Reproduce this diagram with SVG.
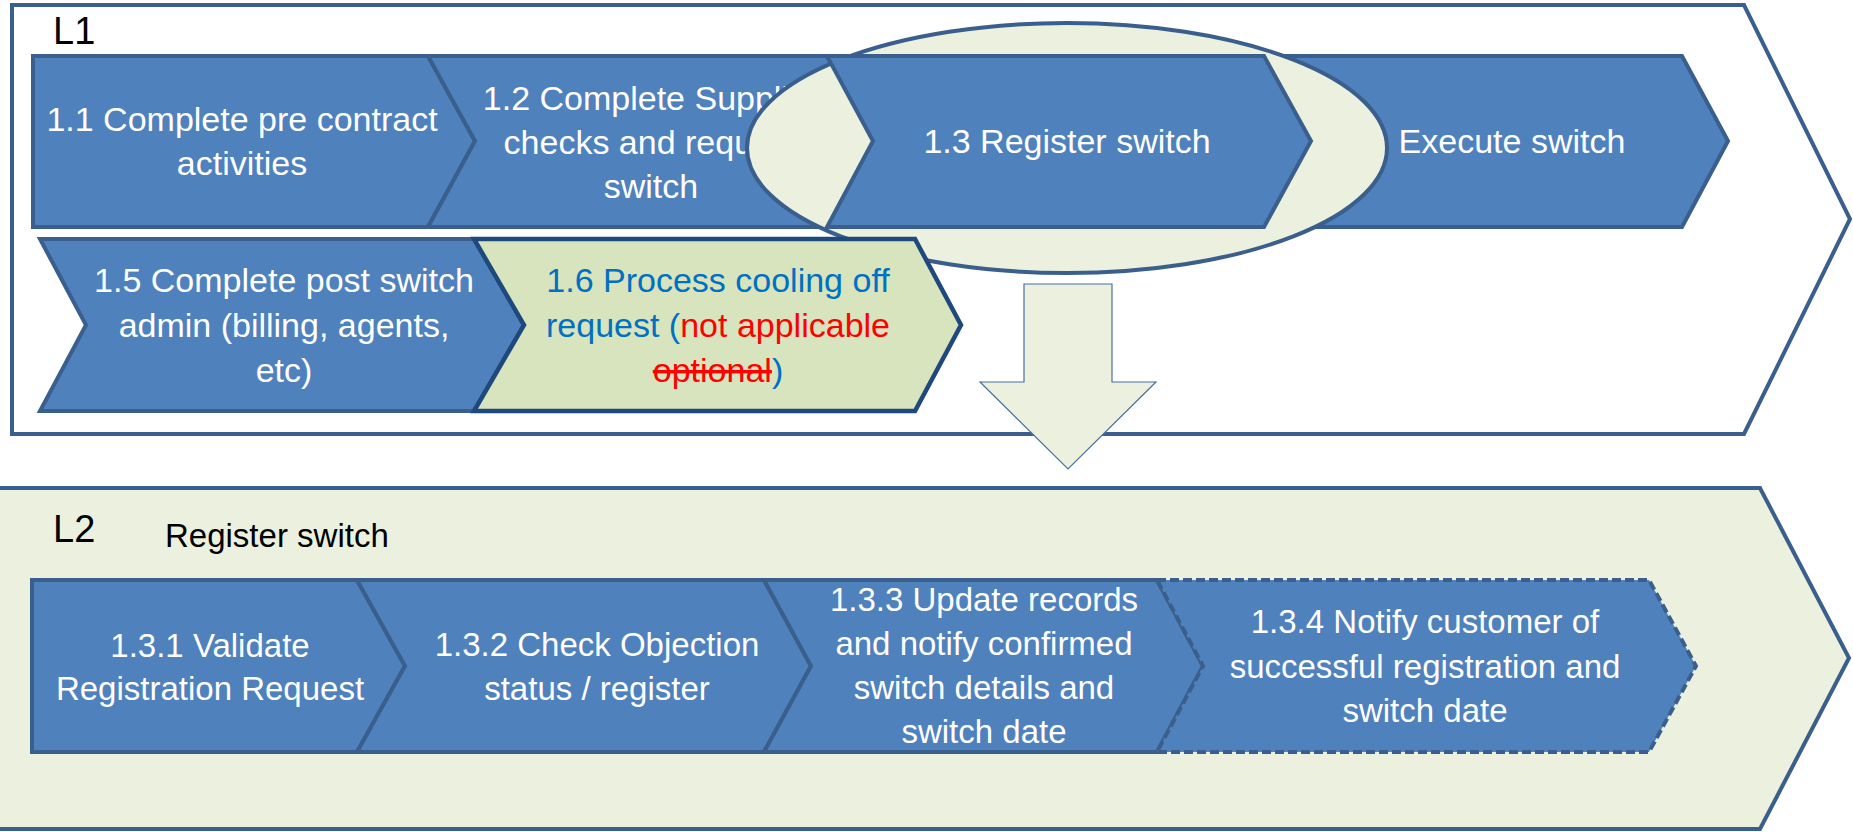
<svg xmlns="http://www.w3.org/2000/svg" width="1853" height="832" viewBox="0 0 1853 832">
  <style>
    .frame { stroke: #3A5F8C; stroke-width: 4; stroke-linejoin: miter; }
    .node { fill: #4F81BD; stroke: #3A5F8C; stroke-width: 4; stroke-linejoin: miter; }
    .t { font-family: "Liberation Sans", Arial, sans-serif; font-size: 34px; fill: #FFFFFF; text-anchor: middle; }
    .t2 { font-family: "Liberation Sans", Arial, sans-serif; font-size: 33px; fill: #FFFFFF; text-anchor: middle; }
    .lvl { font-family: "Liberation Sans", Arial, sans-serif; font-size: 38px; fill: #000000; }
    .hdr { font-family: "Liberation Sans", Arial, sans-serif; font-size: 33px; fill: #000000; }
    .blue { fill: #0070C0; }
    .red { fill: #FF0000; }
  </style>
  <rect x="0" y="0" width="1853" height="832" fill="#FFFFFF"/>

  <g id="L1">
    <polygon class="frame" fill="#FFFFFF" points="12,5 1744,5 1850,219 1744,434 12,434"/>
    <text class="lvl" x="53" y="44">L1</text>
  </g>

  <g id="n11">
    <polygon class="node" points="33,56 428,56 475,141 428,227 33,227"/>
    <text class="t" x="242" y="131">1.1 Complete pre contract</text>
    <text class="t" x="242" y="175">activities</text>
  </g>

  <g id="n12">
    <polygon class="node" points="428,56 827,56 873,141 827,227 428,227 475,141"/>
    <text class="t" x="651" y="110">1.2 Complete Supplier</text>
    <text class="t" x="651" y="154">checks and request</text>
    <text class="t" x="651" y="198">switch</text>
  </g>

  <g id="n14">
    <polygon class="node" points="1264,56 1682,56 1728,141 1682,227 1264,227 1311,141"/>
    <text class="t" x="1512" y="153">Execute switch</text>
  </g>

  <g id="focus">
    <ellipse cx="1067" cy="148" rx="320" ry="125" fill="#EBF1DE" stroke="#3A5F8C" stroke-width="4"/>
  </g>

  <g id="n13">
    <polygon class="node" points="827,56 1264,56 1311,141 1264,227 827,227 873,141"/>
    <text class="t" x="1067" y="153">1.3 Register switch</text>
  </g>

  <g id="n15">
    <polygon class="node" points="40,239 474,239 524,325 474,411 40,411 86,325"/>
    <text class="t" x="284" y="292">1.5 Complete post switch</text>
    <text class="t" x="284" y="337">admin (billing, agents,</text>
    <text class="t" x="284" y="382">etc)</text>
  </g>

  <g id="n16">
    <polygon points="474,239 915,239 961,325 915,411 474,411 524,325" fill="#D7E4BD" stroke="#1F497D" stroke-width="4.5" stroke-linejoin="miter"/>
    <text class="t blue" x="718" y="292">1.6 Process cooling off</text>
    <text class="t" x="718" y="337"><tspan class="blue">request (</tspan><tspan class="red">not applicable</tspan></text>
    <text class="t" x="718" y="382"><tspan class="red" text-decoration="line-through">optional</tspan><tspan class="blue">)</tspan></text>
  </g>

  <g id="connectors">
    <polygon points="1024,284 1112,284 1112,382 1156,382 1068,469 980,382 1024,382" fill="#EBF1DE" stroke="#4A6FA0" stroke-width="1.2"/>
  </g>

  <g id="L2">
    <polygon class="frame" fill="#EBF1DE" points="-6,488 1760,488 1849,658 1760,829 -6,829"/>
    <text class="lvl" x="53" y="542">L2</text>
    <text class="hdr" x="165" y="547">Register switch</text>
  </g>

  <g id="n131">
    <polygon class="node" points="32,580 357,580 405,666 357,752 32,752"/>
    <text class="t2" x="210" y="657">1.3.1 Validate</text>
    <text class="t2" x="210" y="700">Registration Request</text>
  </g>

  <g id="n132">
    <polygon class="node" points="357,580 764,580 811,666 764,752 357,752 405,666"/>
    <text class="t2" x="597" y="656">1.3.2 Check Objection</text>
    <text class="t2" x="597" y="700">status / register</text>
  </g>

  <g id="n133">
    <polygon class="node" points="764,580 1157,580 1203,666 1157,752 764,752 811,666"/>
    <text class="t2" x="984" y="611">1.3.3 Update records</text>
    <text class="t2" x="984" y="655">and notify confirmed</text>
    <text class="t2" x="984" y="699">switch details and</text>
    <text class="t2" x="984" y="743">switch date</text>
  </g>

  <g id="n134">
    <polygon class="node" stroke-dasharray="9 4" points="1157,580 1649,580 1696,666 1649,752 1157,752 1203,666"/>
    <text class="t2" x="1425" y="633">1.3.4 Notify customer of</text>
    <text class="t2" x="1425" y="678">successful registration and</text>
    <text class="t2" x="1425" y="722">switch date</text>
  </g>
</svg>
